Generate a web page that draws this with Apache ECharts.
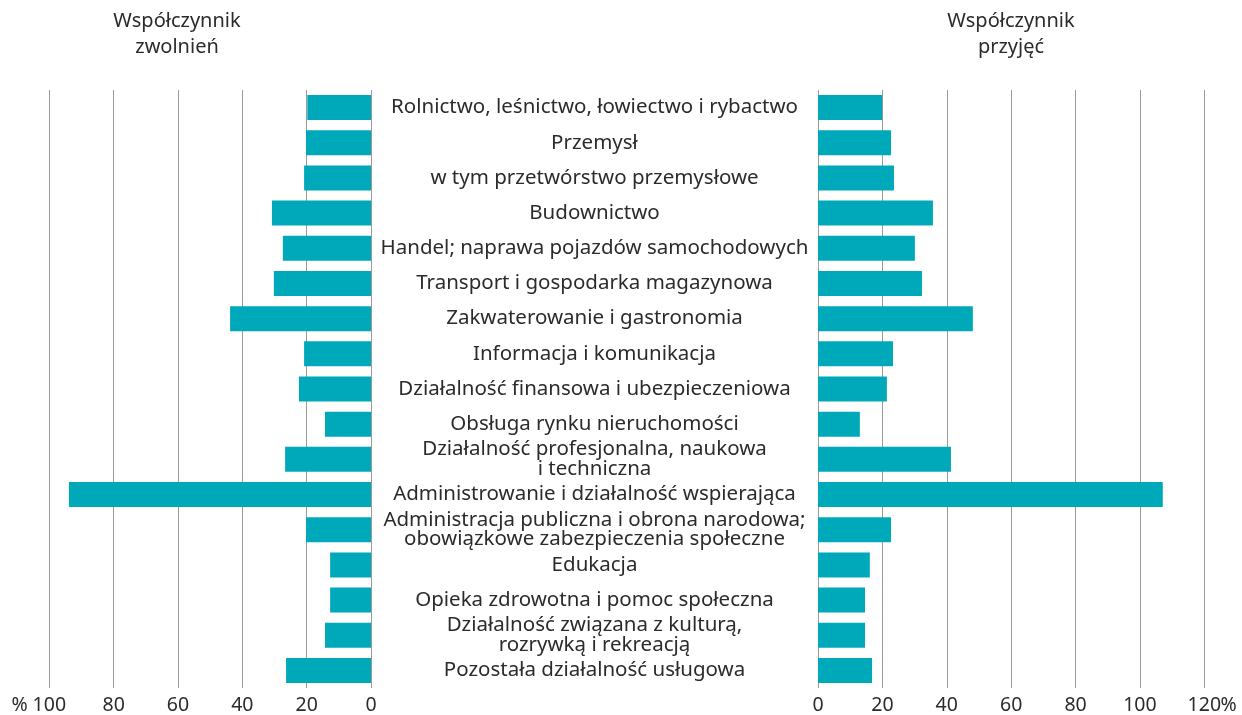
<!DOCTYPE html>
<html>
<head>
<meta charset="utf-8">
<script src="https://cdn.jsdelivr.net/npm/echarts@6/dist/echarts.min.js"></script>
<style>
  html, body { margin: 0; padding: 0; background: #fff; }
  #chart { width: 1242px; height: 715px; }
</style>
</head>
<body>
<div id="chart"></div>
<script>
const categories = [
    'Rolnictwo, leśnictwo, łowiectwo i rybactwo',
    'Przemysł',
    'w tym przetwórstwo przemysłowe',
    'Budownictwo',
    'Handel; naprawa pojazdów samochodowych',
    'Transport i gospodarka magazynowa',
    'Zakwaterowanie i gastronomia',
    'Informacja i komunikacja',
    'Działalność finansowa i ubezpieczeniowa',
    'Obsługa rynku nieruchomości',
    'Działalność profesjonalna, naukowa\ni techniczna',
    'Administrowanie i działalność wspierająca',
    'Administracja publiczna i obrona narodowa;\nobowiązkowe zabezpieczenia społeczne',
    'Edukacja',
    'Opieka zdrowotna i pomoc społeczna',
    'Działalność związana z kulturą,\nrozrywką i rekreacją',
    'Pozostała działalność usługowa'
];
// współczynnik zwolnień (left), współczynnik przyjęć (right), %
const layoffs = [19.8, 20.2, 20.8, 30.8, 27.4, 30.2, 43.8, 20.8, 22.4, 14.3, 26.7, 93.9, 20.2, 12.7, 12.7, 14.3, 26.4];
const hires = [19.9, 22.7, 23.6, 35.7, 30.1, 32.3, 48.1, 23.3, 21.4, 13.0, 41.3, 107.1, 22.7, 16.1, 14.6, 14.6, 16.8];

const font = '"Noto Sans", sans-serif';
const textColor = '#2b2b2b';
const barColor = '#00a9ba';
const gridColor = '#9a9a9a';

const chart = echarts.init(document.getElementById('chart'));

const xCommon = {
    type: 'value',
    min: 0,
    interval: 20,
    axisLine: {show: false},
    axisTick: {show: false},
    splitLine: {show: true, lineStyle: {color: gridColor, width: 1}},
    axisLabel: {color: textColor, fontFamily: font, fontSize: 19.5, margin: 7}
};

chart.setOption({
    animation: false,
    grid: [
        {left: 49.3, right: 871, top: 90, bottom: 27},
        {left: 818, right: 37.7, top: 90, bottom: 27}
    ],
    xAxis: [
        Object.assign({}, xCommon, {gridIndex: 0, max: 100, inverse: true}),
        Object.assign({}, xCommon, {gridIndex: 1, max: 120})
    ],
    yAxis: [
        {
            type: 'category', gridIndex: 0, data: categories, inverse: true,
            position: 'right',
            axisLine: {show: false}, axisTick: {show: false},
            axisLabel: {
                align: 'center', margin: 223.5, color: textColor,
                fontFamily: font, fontSize: 20.5, lineHeight: 19.5
            }
        },
        {
            type: 'category', gridIndex: 1, data: categories, inverse: true,
            axisLine: {show: false}, axisTick: {show: false},
            axisLabel: {show: false}
        }
    ],
    series: [
        {
            type: 'bar', xAxisIndex: 0, yAxisIndex: 0, data: layoffs,
            barWidth: 25, itemStyle: {color: barColor}
        },
        {
            type: 'bar', xAxisIndex: 1, yAxisIndex: 1, data: hires,
            barWidth: 25, itemStyle: {color: barColor}
        }
    ],
    graphic: [
        {
            type: 'text', x: 177, y: 34,
            style: {
                text: 'Współczynnik\nzwolnień', align: 'center', verticalAlign: 'middle',
                fill: textColor, font: '20px ' + font, lineHeight: 26
            }
        },
        {
            type: 'text', x: 1011, y: 34,
            style: {
                text: 'Współczynnik\nprzyjęć', align: 'center', verticalAlign: 'middle',
                fill: textColor, font: '20px ' + font, lineHeight: 26
            }
        },
        {
            type: 'text', x: 19.5, y: 705,
            style: {text: '%', align: 'center', verticalAlign: 'middle', fill: textColor, font: '19.5px ' + font}
        },
        {
            type: 'text', x: 1228.5, y: 705,
            style: {text: '%', align: 'center', verticalAlign: 'middle', fill: textColor, font: '19.5px ' + font}
        }
    ]
});
</script>
</body>
</html>
